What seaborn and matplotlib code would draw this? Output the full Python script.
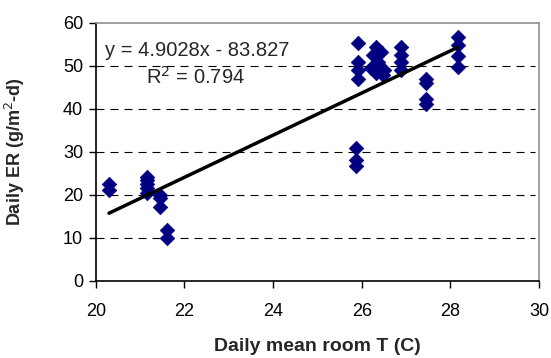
import matplotlib
matplotlib.use("Agg")
import matplotlib.pyplot as plt
import numpy as np
import pandas as pd
import seaborn as sns

# Daily mean room temperature (C) and daily ER (g/m2-d)
temp = [20.3, 20.3,
        21.15, 21.15, 21.15, 21.15, 21.15,
        21.45, 21.45, 21.45,
        21.6, 21.6,
        25.92, 25.92, 25.92, 25.92,
        25.88, 25.88, 25.88,
        26.33, 26.44, 26.25, 26.36, 26.2, 26.51, 26.33, 26.48,
        26.88, 26.88, 26.88, 26.88,
        27.45, 27.45, 27.45, 27.45,
        28.17, 28.17, 28.17, 28.17]
er = [22.4, 21.0,
      24.2, 23.4, 22.5, 21.5, 20.5,
      20.0, 19.2, 17.2,
      11.7, 9.9,
      55.3, 50.9, 49.0, 46.9,
      30.8, 28.1, 26.7,
      54.4, 53.2, 52.4, 50.9, 49.4, 49.0, 48.3, 47.8,
      54.4, 52.6, 50.8, 49.0,
      46.8, 46.0, 42.2, 41.1,
      56.6, 54.9, 52.2, 49.6]

slope, intercept, r2 = 4.9028, -83.827, 0.794

df = pd.DataFrame({"T": temp, "ER": er})

sns.set_style("white")
plt.rcParams["font.family"] = ["Liberation Sans", "DejaVu Sans"]

fig = plt.figure(figsize=(5.51, 3.58), dpi=100)
ax = fig.add_axes([0.1737, 0.2159, 0.8046, 0.7207])

for yv in [10, 20, 30, 40, 50]:
    ax.plot([20, 29.9], [yv, yv], color="black", lw=0.8, ls=(0, (7.2, 5.4)), zorder=0)

sns.scatterplot(data=df, x="T", y="ER", marker="D", s=55, color="#000080",
                edgecolor="#000080", linewidth=0.5, ax=ax, zorder=3)

xl = np.array([min(temp), max(temp)])
ax.plot(xl, slope * xl + intercept, color="black", lw=2.5, zorder=4)

ax.set_xlim(20, 30)
ax.set_ylim(0, 60)
ax.set_xticks(np.arange(20, 31, 2))
ax.set_yticks(np.arange(0, 61, 10))
ax.tick_params(axis="both", direction="out", length=5, width=1, labelsize=13,
               bottom=True, left=True, colors="black")
ax.tick_params(axis="x", pad=11)
ax.tick_params(axis="y", pad=4)

for side in ["left", "bottom"]:
    ax.spines[side].set_color("black")
    ax.spines[side].set_linewidth(1.2)
for side in ["top", "right"]:
    ax.spines[side].set_color("#909090")
    ax.spines[side].set_linewidth(1.2)

ax.set_xlabel("Daily mean room T (C)", fontsize=14, fontweight="bold")
ax.set_ylabel("Daily ER (g/m$^2$-d)", fontsize=13, fontweight="bold")
ax.xaxis.set_label_coords(0.5, -0.222)
ax.yaxis.set_label_coords(-0.155, 0.5)

ax.text(20.2, 53.6, f"y = {slope}x - {abs(intercept)}", fontsize=14.5,
        ha="left", va="center")
ax.text(22.25, 47.3, f"R$^2$ = {r2}", fontsize=14.5, ha="center", va="center")

fig.savefig("out.png", dpi=100)
